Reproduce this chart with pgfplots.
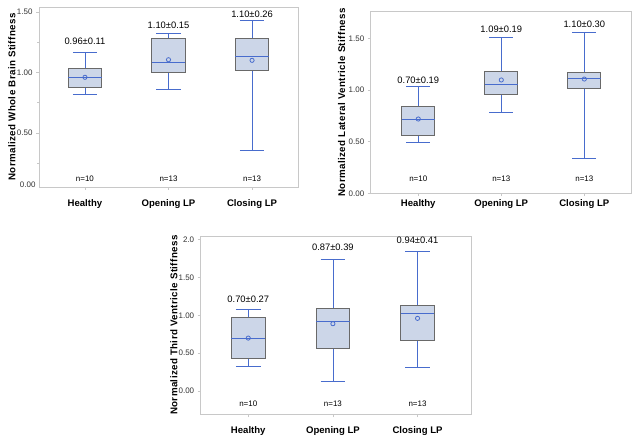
\documentclass[border=0pt]{standalone}
\usepackage{fontspec}
\setmainfont{Liberation Sans}
\newfontfamily\ylfam[LetterSpace=4]{Liberation Sans}
\usepackage{pgfplots}
\pgfplotsset{compat=1.18}
\usepgfplotslibrary{statistics}
\definecolor{framegray}{RGB}{200,200,200}
\definecolor{boxgray}{RGB}{105,105,105}
\definecolor{boxfill}{RGB}{204,214,232}
\definecolor{wblue}{RGB}{72,108,205}
\newcommand\tkfont{\fontsize{8}{9}\selectfont}
\newcommand\stfont{\fontsize{9.4}{10}\selectfont}
\newcommand\xlfont{\fontsize{9.6}{11}\selectfont\bfseries}
\newcommand\ylfont{\ylfam\fontsize{9.8}{11}\selectfont\bfseries}
\pgfplotsset{
  boxplot/every box/.style={draw=boxgray, fill=boxfill, line width=0.9bp},
  boxplot/every whisker/.style={draw=wblue, line width=0.8bp},
  boxplot/every median/.style={draw=wblue, line width=0.9bp},
  myax/.style={
    scale only axis, clip=false,
    axis line style={draw=framegray, line width=0.8bp},
    tick style={draw=framegray, line width=0.6bp},
    tick align=outside, major tick length=3bp, minor tick length=2bp,
    xtick={1,2,3}, xticklabels={Healthy,Opening LP,Closing LP},
    xtick pos=bottom, ytick pos=left,
    /pgf/number format/assume math mode=true,
    yticklabel style={font=\tkfont, text=black!80},
    xticklabel style={font=\xlfont, anchor=center},
  },
  bx/.style={draw=wblue, solid, boxplot prepared={#1, draw direction=y, box extend=0.4, whisker extend=0.29}},
  mn/.style={only marks, mark=o, mark size=2.1bp, mark options={draw=wblue, line width=0.8bp}},
}
\begin{document}
\begin{tikzpicture}
\path[use as bounding box] (0,0) rectangle (639bp,443bp);
% Panel 1
\begin{axis}[myax, at={(39bp,256bp)}, anchor=south west, width=259bp, height=180bp,
  xmin=0.45, xmax=3.55, ymin=0.055, ymax=1.54,
  ytick={0.5,1,1.5}, yticklabels={0.50,1.00,1.50},
  minor ytick={0.25,0.75,1.25},
  extra y ticks={0.075}, extra y tick labels={0.00}, extra y tick style={major tick length=0pt},
  xticklabel style={yshift=-14bp},
  ylabel={Normalized Whole Brain Stiffness},
  ylabel style={font=\ylfont, at={([xshift=-27bp]axis description cs:0,0.5)}, anchor=center, rotate=0},
]
\addplot[bx={draw position=1, lower whisker=0.816, lower quartile=0.877, median=0.962, upper quartile=1.034, upper whisker=1.166}] coordinates {};
\addplot[bx={draw position=2, lower whisker=0.857, lower quartile=1.001, median=1.086, upper quartile=1.278, upper whisker=1.323}] coordinates {};
\addplot[bx={draw position=3, lower whisker=0.357, lower quartile=1.020, median=1.135, upper quartile=1.278, upper whisker=1.432}] coordinates {};
\addplot[mn] coordinates {(1,0.96) (2,1.105) (3,1.10)};
\node[font=\stfont] at (axis cs:1,1.257) {0.96±0.11};
\node[font=\stfont] at (axis cs:2,1.391) {1.10±0.15};
\node[font=\stfont] at (axis cs:3,1.476) {1.10±0.26};
\node[font=\tkfont] at (axis cs:1,0.126) {n=10};
\node[font=\tkfont] at (axis cs:2,0.126) {n=13};
\node[font=\tkfont] at (axis cs:3,0.126) {n=13};
\end{axis}
% Panel 2
\begin{axis}[myax, at={(370.7bp,249.6bp)}, anchor=south west, width=261bp, height=181.7bp,
  xmin=0.427, xmax=3.571, ymin=0, ymax=1.759,
  ytick={0,0.5,1,1.5}, yticklabels={0.00,0.50,1.00,1.50},
  xticklabel style={yshift=-8bp},
  ylabel={Normalized Lateral Ventricle Stiffness},
  ylabel style={font=\ylfont, at={([xshift=-29bp]axis description cs:0,0.5)}, anchor=center, rotate=0},
]
\addplot[bx={draw position=1, lower whisker=0.491, lower quartile=0.559, median=0.720, upper quartile=0.846, upper whisker=1.033}] coordinates {};
\addplot[bx={draw position=2, lower whisker=0.781, lower quartile=0.962, median=1.056, upper quartile=1.185, upper whisker=1.507}] coordinates {};
\addplot[bx={draw position=3, lower whisker=0.340, lower quartile=1.017, median=1.110, upper quartile=1.172, upper whisker=1.562}] coordinates {};
\addplot[mn] coordinates {(1,0.72) (2,1.098) (3,1.107)};
\node[font=\stfont] at (axis cs:1,1.098) {0.70±0.19};
\node[font=\stfont] at (axis cs:2,1.589) {1.09±0.19};
\node[font=\stfont] at (axis cs:3,1.640) {1.10±0.30};
\node[font=\tkfont] at (axis cs:1,0.146) {n=10};
\node[font=\tkfont] at (axis cs:2,0.146) {n=13};
\node[font=\tkfont] at (axis cs:3,0.146) {n=13};
\end{axis}
% Panel 3
\begin{axis}[myax, at={(200.7bp,28.7bp)}, anchor=south west, width=271bp, height=178.3bp,
  xmin=0.438, xmax=3.64, ymin=-0.308, ymax=2.05,
  ytick={0,0.5,1,1.5,2}, yticklabels={0.00,0.50,1.00,1.50,2.0},
  xticklabel style={yshift=-14bp},
  ylabel={Normalized Third Ventricle Stiffness},
  ylabel style={font=\ylfont, at={([xshift=-26.7bp]axis description cs:0,0.5)}, anchor=center, rotate=0},
]
\addplot[bx={draw position=1, lower whisker=0.322, lower quartile=0.437, median=0.700, upper quartile=0.970, upper whisker=1.080}] coordinates {};
\addplot[bx={draw position=2, lower whisker=0.128, lower quartile=0.560, median=0.917, upper quartile=1.098, upper whisker=1.742}] coordinates {};
\addplot[bx={draw position=3, lower whisker=0.317, lower quartile=0.670, median=1.023, upper quartile=1.138, upper whisker=1.843}] coordinates {};
\addplot[mn] coordinates {(1,0.70) (2,0.89) (3,0.961)};
\node[font=\stfont] at (axis cs:1,1.213) {0.70±0.27};
\node[font=\stfont] at (axis cs:2,1.900) {0.87±0.39};
\node[font=\stfont] at (axis cs:3,1.988) {0.94±0.41};
\node[font=\tkfont] at (axis cs:1,-0.172) {n=10};
\node[font=\tkfont] at (axis cs:2,-0.172) {n=13};
\node[font=\tkfont] at (axis cs:3,-0.172) {n=13};
\end{axis}
\end{tikzpicture}
\end{document}
